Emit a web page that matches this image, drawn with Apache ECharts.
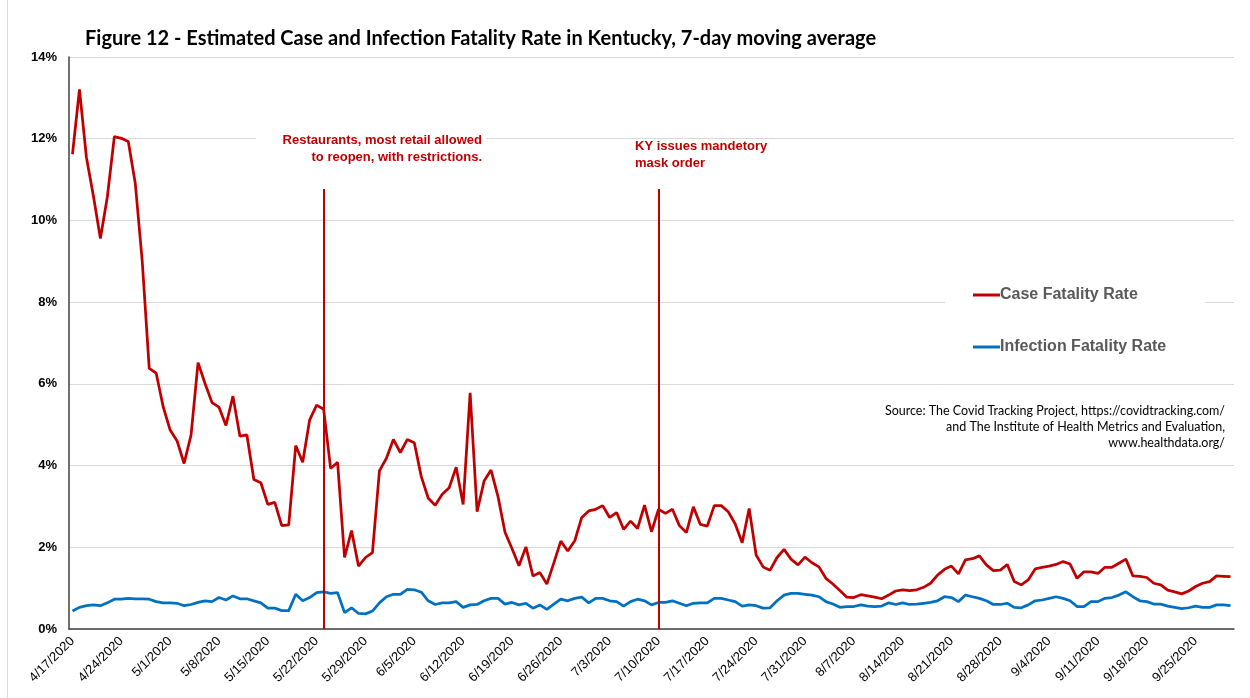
<!DOCTYPE html>
<html>
<head>
<meta charset="utf-8">
<script src="https://cdn.jsdelivr.net/npm/echarts@6/dist/echarts.min.js"></script>
<style>
  html, body { margin: 0; padding: 0; background: #fff; }
  #chart { width: 1250px; height: 698px; }
</style>
</head>
<body>
<div id="chart"></div>
<script>
// dates 4/17/2020 .. 9/30/2020, one per day
var dates = [];
var d = new Date(2020, 3, 17);
while (d <= new Date(2020, 8, 30)) {
    dates.push((d.getMonth() + 1) + '/' + d.getDate() + '/' + d.getFullYear());
    d.setDate(d.getDate() + 1);
}

// case fatality rate, %
var caseFatality = [
    11.62, 13.21, 11.54, 10.6, 9.56, 10.58, 12.05, 12.01, 11.93, 10.91,
    9.0, 6.38, 6.26, 5.44, 4.87, 4.60, 4.05, 4.75, 6.52, 6.01,
    5.54, 5.43, 4.98, 5.70, 4.72, 4.75, 3.66, 3.58, 3.05, 3.10,
    2.53, 2.55, 4.49, 4.08, 5.12, 5.48, 5.38, 3.93, 4.08, 1.75,
    2.41, 1.54, 1.75, 1.87, 3.87, 4.18, 4.64, 4.32, 4.64, 4.56,
    3.73, 3.20, 3.03, 3.30, 3.46, 3.96, 3.05, 5.78, 2.87, 3.62,
    3.89, 3.24, 2.37, 1.97, 1.55, 2.01, 1.30, 1.38, 1.10, 1.62,
    2.15, 1.91, 2.16, 2.73, 2.89, 2.93, 3.02, 2.73, 2.85, 2.44,
    2.64, 2.46, 3.03, 2.38, 2.93, 2.83, 2.93, 2.53, 2.36, 2.99,
    2.56, 2.52, 3.02, 3.02, 2.87, 2.57, 2.11, 2.95, 1.81, 1.52,
    1.44, 1.75, 1.95, 1.71, 1.57, 1.76, 1.62, 1.52, 1.24, 1.10,
    0.94, 0.78, 0.77, 0.84, 0.81, 0.78, 0.74, 0.83, 0.93, 0.96,
    0.94, 0.96, 1.02, 1.12, 1.32, 1.46, 1.54, 1.35, 1.69, 1.72,
    1.79, 1.57, 1.43, 1.44, 1.58, 1.16, 1.08, 1.20, 1.47, 1.51,
    1.54, 1.58, 1.65, 1.59, 1.24, 1.40, 1.40, 1.36, 1.51, 1.51,
    1.61, 1.71, 1.30, 1.29, 1.26, 1.12, 1.08, 0.95, 0.91, 0.86,
    0.93, 1.04, 1.12, 1.16, 1.30, 1.29, 1.28
];

// infection fatality rate, %
var infectionFatality = [
    0.44, 0.53, 0.57, 0.59, 0.57, 0.64, 0.73, 0.73, 0.75, 0.74,
    0.74, 0.73, 0.67, 0.64, 0.64, 0.63, 0.57, 0.60, 0.65, 0.69,
    0.67, 0.77, 0.71, 0.81, 0.74, 0.74, 0.69, 0.64, 0.51, 0.51,
    0.45, 0.45, 0.85, 0.69, 0.77, 0.89, 0.91, 0.87, 0.89, 0.40,
    0.52, 0.38, 0.37, 0.44, 0.64, 0.79, 0.85, 0.85, 0.97, 0.96,
    0.90, 0.69, 0.60, 0.64, 0.64, 0.67, 0.53, 0.59, 0.60, 0.69,
    0.75, 0.75, 0.61, 0.65, 0.59, 0.63, 0.51, 0.59, 0.48, 0.61,
    0.73, 0.69, 0.75, 0.78, 0.64, 0.75, 0.75, 0.69, 0.67, 0.56,
    0.67, 0.73, 0.69, 0.59, 0.65, 0.65, 0.69, 0.63, 0.57, 0.63,
    0.64, 0.64, 0.75, 0.75, 0.71, 0.67, 0.56, 0.59, 0.57, 0.51,
    0.52, 0.69, 0.83, 0.87, 0.87, 0.85, 0.83, 0.79, 0.67, 0.61,
    0.53, 0.55, 0.55, 0.59, 0.56, 0.55, 0.56, 0.64, 0.60, 0.64,
    0.60, 0.61, 0.63, 0.65, 0.69, 0.79, 0.77, 0.67, 0.83, 0.79,
    0.75, 0.69, 0.60, 0.60, 0.63, 0.53, 0.52, 0.59, 0.69, 0.71,
    0.75, 0.79, 0.75, 0.69, 0.55, 0.55, 0.67, 0.67, 0.75, 0.77,
    0.83, 0.91, 0.79, 0.69, 0.67, 0.61, 0.61, 0.56, 0.53, 0.50,
    0.52, 0.56, 0.53, 0.53, 0.59, 0.59, 0.57
];

// event markers: date and top of the vertical line (%)
var eventDates = ['5/23/2020', '7/10/2020'];
var eventTop = 10.77;

var red = '#c00000';
var blue = '#0070c0';

var myChart = echarts.init(document.getElementById('chart'));

var option = {
    animation: false,
    grid: {
        left: 69,
        right: 16,
        top: 57,
        bottom: 69
    },
    xAxis: {
        type: 'category',
        data: dates,
        boundaryGap: true,
        axisLine: {
            lineStyle: { color: '#404040', width: 1.5 }
        },
        axisTick: { show: false },
        axisLabel: {
            interval: 6,
            rotate: 45,
            color: '#000',
            fontFamily: 'Liberation Sans, Arial',
            fontSize: 13,
            margin: 10
        }
    },
    yAxis: {
        type: 'value',
        min: 0,
        max: 14,
        interval: 2,
        axisLine: {
            show: true,
            lineStyle: { color: '#404040', width: 1.5 }
        },
        axisTick: { show: false },
        splitLine: {
            lineStyle: { color: '#d9d9d9', width: 1 }
        },
        axisLabel: {
            formatter: '{value}%',
            color: '#000',
            fontFamily: 'Liberation Sans, Arial',
            fontWeight: 'bold',
            fontSize: 13,
            margin: 12
        }
    },
    legend: {
        orient: 'vertical',
        left: 945,
        top: 281,
        padding: [6, 39, 12, 28],
        backgroundColor: '#fff',
        itemGap: 36,
        itemWidth: 27,
        itemHeight: 3,
        icon: 'rect',
        textStyle: {
            color: '#595959',
            fontFamily: 'Liberation Sans, Arial',
            fontWeight: 'bold',
            fontSize: 16,
            padding: [0, 0, 0, -5]
        },
        data: ['Case Fatality Rate', 'Infection Fatality Rate']
    },
    series: [
        {
            name: 'Case Fatality Rate',
            type: 'line',
            data: caseFatality,
            symbol: 'none',
            lineStyle: { color: red, width: 2.75 },
            itemStyle: { color: red },
            markLine: {
                silent: true,
                symbol: 'none',
                label: { show: false },
                lineStyle: { color: red, width: 2, type: 'solid' },
                data: eventDates.map(function (day) {
                    return [{ coord: [day, 0] }, { coord: [day, eventTop] }];
                })
            }
        },
        {
            name: 'Infection Fatality Rate',
            type: 'line',
            data: infectionFatality,
            symbol: 'none',
            lineStyle: { color: blue, width: 2.75 },
            itemStyle: { color: blue }
        }
    ],
    graphic: [
        {
            type: 'rect',
            shape: { x: 7, y: 0, width: 1, height: 698 },
            style: { fill: '#d9d9d9' }
        },
        {
            type: 'text',
            z: 10,
            style: {
                x: 85, y: 39,
                text: 'Figure 12 - Estimated Case and Infection Fatality Rate in Kentucky, 7-day moving average',
                textVerticalAlign: 'middle',
                fill: '#000',
                font: 'bold 20px Lato, "Open Sans", sans-serif'
            }
        },
        {
            type: 'rect',
            z: 9,
            shape: { x: 256, y: 130, width: 230, height: 36 },
            style: { fill: '#fff' }
        },
        {
            type: 'text',
            z: 10,
            style: {
                x: 482, y: 132,
                text: 'Restaurants, most retail allowed\nto reopen, with restrictions.',
                textAlign: 'right',
                lineHeight: 17,
                fill: red,
                font: 'bold 13px "Liberation Sans", Arial'
            }
        },
        {
            type: 'text',
            z: 10,
            style: {
                x: 635, y: 138,
                text: 'KY issues mandetory\nmask order',
                textAlign: 'left',
                lineHeight: 17,
                fill: red,
                font: 'bold 13px "Liberation Sans", Arial'
            }
        },
        {
            type: 'text',
            z: 10,
            style: {
                x: 1225, y: 403,
                text: 'Source: The Covid Tracking Project, https://covidtracking.com/\nand The Institute of Health Metrics and Evaluation,\nwww.healthdata.org/',
                textAlign: 'right',
                lineHeight: 16,
                fill: '#000',
                font: '12.5px Lato, "Open Sans", sans-serif'
            }
        }
    ]
};

myChart.setOption(option);
</script>
</body>
</html>
